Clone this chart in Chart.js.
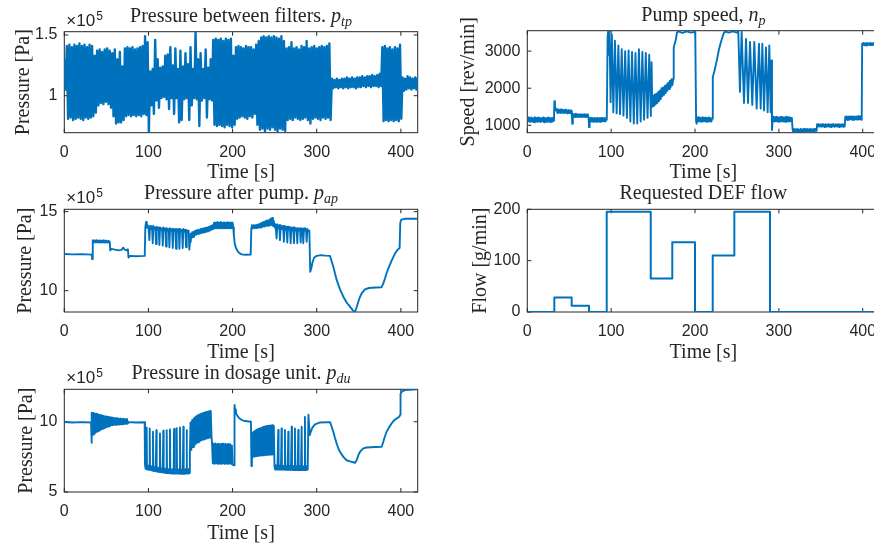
<!DOCTYPE html>
<html>
<head>
<meta charset="utf-8">
<title>DEF dosing system measurements</title>
<script src="https://cdn.jsdelivr.net/npm/chart.js@4.4.0/dist/chart.umd.min.js"></script>
<style>
  html, body { margin: 0; padding: 0; background: #fff; }
  body { width: 874px; height: 543px; overflow: hidden; position: relative; }
  canvas { position: absolute; }
</style>
</head>
<body>
<canvas id="ptpChart"></canvas>
<canvas id="speedChart"></canvas>
<canvas id="apChart"></canvas>
<canvas id="flowChart"></canvas>
<canvas id="duChart"></canvas>
<script>
// Tick positions of every axis
var timeTicks = [0, 100, 200, 300, 400];
var ptpTicks = [1, 1.5];
var speedTicks = [1000, 2000, 3000];
var apTicks = [10, 15];
var flowTicks = [0, 100, 200];
var duTicks = [5, 10];

// Pressure between filters, x1e5 Pa: upper and lower extremes every 3 s
var ptpStep = 3;
var ptpHigh = [1.30,1.41,1.42,1.40,1.42,1.41,1.43,1.41,1.42,1.40, 1.42,1.41,1.33,1.37,1.38,1.36,1.38,1.39,1.37,1.35,
  1.38,1.30,1.36,1.24,1.39,1.40,1.39,1.40,1.38,1.39, 1.40,1.41,1.49,1.44,1.20,1.22,1.46,1.30,1.23,1.24,
  1.33,1.34,1.40,1.25,1.39,1.22,1.37,1.24,1.35,1.26, 1.40,1.22,1.527,1.30,1.35,1.22,1.38,1.23,1.30,1.46,
  1.47,1.46,1.47,1.45,1.47,1.46,1.47,1.33,1.40,1.41, 1.40,1.39,1.41,1.40,1.40,1.38,1.42,1.45,1.48,1.49,
  1.48,1.49,1.48,1.49,1.48,1.47,1.49,1.45,1.39,1.40, 1.44,1.39,1.40,1.38,1.41,1.40,1.45,1.39,1.40,1.41,
  1.39,1.40,1.41,1.40,1.41,1.43,1.14,1.13,1.14,1.13, 1.14,1.14,1.15,1.14,1.15,1.14,1.15,1.15,1.16,1.15,
  1.16,1.16,1.17,1.16,1.17,1.18,1.40,1.41,1.39,1.40, 1.38,1.40,1.39,1.42,1.15,1.14,1.16,1.15,1.14,1.15,
  1.15];
var ptpLow = [1.05,0.81,0.82,0.80,0.81,0.82,0.81,0.80,0.82,0.81, 0.82,0.83,0.86,0.92,0.94,0.93,0.95,0.93,0.90,0.83,
  0.77,0.78,0.78,0.80,0.83,0.84,0.83,0.84,0.83,0.84, 0.83,0.85,0.84,0.70,0.92,0.85,0.96,0.90,0.98,0.99,
  0.97,0.89,0.98,0.85,0.98,0.78,0.80,0.97,0.98,0.80, 0.92,0.98,0.97,0.75,0.96,0.98,0.82,0.97,0.96,0.76,
  0.75,0.76,0.75,0.74,0.76,0.75,0.74,0.76,0.81,0.82, 0.83,0.82,0.81,0.83,0.82,0.85,0.76,0.72,0.73,0.70,
  0.73,0.72,0.74,0.72,0.70,0.73,0.72,0.71,0.80,0.81, 0.80,0.82,0.81,0.80,0.81,0.82,0.80,0.77,0.81,0.82,
  0.81,0.80,0.82,0.81,0.82,0.80,1.06,1.07,1.06,1.07, 1.06,1.07,1.06,1.07,1.07,1.06,1.07,1.07,1.08,1.07,
  1.08,1.07,1.08,1.08,1.07,1.08,0.79,0.80,0.79,0.80, 0.79,0.80,0.79,0.81,1.04,1.05,1.06,1.05,1.06,1.05,
  1.07];

// Pump speed [rev/min]: [time s, value]
var speedPoints = [
  [0,1150],[1,1210],[2,1100],[3,1200],[4,1090],[5,1210],[6,1100],[7,1190],[8,1080],[9,1220],
  [10,1110],[11,1200],[12,1090],[13,1210],[14,1100],[15,1200],[16,1090],[17,1190],[18,1110],[19,1210],
  [20,1080],[21,1200],[22,1100],[23,1190],[24,1090],[25,1210],[26,1100],[27,1200],[28,1080],[29,1190],
  [30,1100],[31,1210],[31.8,1120],[32.3,1650],[33,1520],[34,1400],[35,1440],[36,1330],[37,1430],[38,1340],
  [39,1420],[40,1330],[41,1430],[42,1340],[43,1410],[44,1330],[45,1420],[46,1340],[47,1400],[48,1320],
  [49,1410],[50,1330],[51,1400],[52,1320],[53,1390],[53.6,1040],[54.3,1310],[55,1230],[56,1300],[57,1220],
  [58,1310],[59,1230],[60,1300],[61,1220],[62,1290],[63,1230],[64,1300],[65,1220],[66,1290],[67,1230],
  [68,1300],[69,1220],[70,1290],[71,1230],[72,1300],[73,1220],[73.6,950],[74.3,1190],[75,1090],[76,1200],
  [77,1100],[78,1190],[79,1090],[80,1200],[81,1100],[82,1190],[83,1090],[84,1200],[85,1100],[86,1190],
  [87,1090],[88,1200],[89,1100],[90,1190],[91,1110],[92,1200],[93,1100],[94,1190],[94.8,1150],
  [95.8,3400],[96.5,3550],[97.3,2900],[98,3550],[99.3,1620],[100.8,3450],[102.6,1350],[104.5,3280],
  [106.6,1320],[108.6,3150],[110.6,1300],[112.6,3050],[114.7,1260],[116.7,3000],[118.8,1200],[120.8,3020],
  [122.9,1100],[124.9,2980],[127,1050],[129,2950],[131.1,1050],[133.1,3050],[135.2,1100],[137.2,2980],
  [139.3,1150],[141.3,2950],[143.4,1200],[145.4,2900],[147.3,1250],[148.2,2700],[149,1500],
  [150,1800],[151,1520],[152,1830],[153,1560],[154,1850],[155,1600],[156,1900],[157,1650],[158,1930],
  [159,1700],[160,2000],[161,1780],[162,2020],[163,1820],[164,2060],[165,1870],[166,2100],[167,1930],
  [168,2150],[169,1980],[170,2200],[171,2030],[172,2240],[173,2080],[174,2250],
  [174.6,3100],[177,3300],[178.5,3500],[180,3530],[185,3490],[190,3530],[195,3500],[200.3,3520],
  [201.3,1100],[202,1040],[202.6,1210],[203.5,1100],[204.5,1220],[205.5,1110],[206.5,1200],[207.5,1090],
  [208.5,1210],[209.5,1100],[210.5,1200],[211.5,1110],[212.5,1210],[213.5,1090],[214.5,1200],[215.5,1100],
  [216.5,1210],[217.5,1110],[218.5,1200],[219.5,1100],[220.5,1180],
  [221.2,2300],[223,2450],[226,2750],[228.4,3030],[231,3250],[234,3470],[236,3530],[240,3500],
  [245,3530],[250,3500],[251.6,3540],
  [253.6,1900],[255.6,3520],[258.4,1600],[260.8,3330],[263.2,1600],[265.6,3250],[268.3,1550],[270.7,3250],
  [273.5,1450],[276.3,3200],[278.3,1450],[280.3,3200],[282.3,1400],[284.6,3100],[286.6,1350],[288.6,3150],
  [290.2,1350],[291.1,2750],[291.8,870],
  [292.5,1150],[293.5,1230],[294.5,1100],[295.5,1220],[296.5,1110],[297.5,1230],[298.5,1100],[299.5,1210],
  [300.5,1090],[301.5,1220],[302.5,1110],[303.5,1230],[304.5,1100],[305.5,1210],[306.5,1100],[307.5,1220],
  [308.5,1090],[309.5,1230],[310.5,1110],[311.5,1220],[312.5,1100],[313.5,1210],[314.5,1110],[315.5,1200],
  [316.3,900],[317,830],[318,900],[319,840],[320,890],[321,830],[322,900],[323,840],[324,890],[325,830],
  [326,900],[327,840],[328,890],[329,820],[330,900],[331,840],[332,890],[333,830],[334,900],[335,840],
  [336,890],[337,830],[338,900],[339,840],[340,890],[341,830],[342,900],[343,840],[344,890],[345,850],
  [345.6,1030],[346.5,960],[347.5,1030],[348.5,970],[349.5,1020],[350.5,960],[351.5,1030],[352.5,970],
  [353.5,1020],[354.5,950],[355.5,1030],[356.5,960],[357.5,1020],[358.5,970],[359.5,1030],[360.5,960],
  [361.5,1020],[362.5,950],[363.5,1030],[364.5,970],[365.5,1020],[366.5,960],[367.5,1030],[368.5,970],
  [369.5,1020],[370.5,960],[371.5,1030],[372.5,950],[373.5,1020],[374.5,970],[375.5,1030],[376.5,960],
  [377.5,1020],[378.5,970],
  [379.2,1230],[380,1150],[381,1240],[382,1140],[383,1230],[384,1150],[385,1240],[386,1160],[387,1230],
  [388,1140],[389,1240],[390,1150],[391,1230],[392,1160],[393,1240],[394,1150],[395,1250],[396,1160],
  [397,1240],[398,1150],[398.8,1220],
  [399.3,3200],[400,3160],[401,3220],[402,3160],[403,3210],[404,3150],[405,3220],[406,3170],[407,3210],
  [408,3160],[409,3220],[410,3160],[411,3210],[412,3170],[413,3220],[414,3160],[415,3210],[416,3160],
  [417,3220],[418,3170],[419,3210],[420,3180]
];

// Pressure after pump, x1e5 Pa: [time s, value]
var apPoints = [
  [0,12.32],[10,12.3],[20,12.31],[32.6,12.28],[33.1,12.0],[33.8,13.2],[35,13.05],[36,13.18],[37,13.05],[38,13.2],
  [39,13.06],[40,13.18],[41,13.05],[42,13.18],[43,13.04],[44,13.17],[45,13.05],[46,13.18],[47,13.05],[48,13.16],
  [49,13.05],[50,13.17],[51,13.04],[52,13.15],[53,13.05],[54,13.1],[54.6,12.55],[56,12.65],[60,12.6],[64,12.55],
  [68,12.58],[70,12.72],[72,12.6],[74,12.55],[75.6,12.62],[76.3,12.1],[78,12.2],[85,12.18],[95.6,12.2],
  [96.3,14.0],[97.2,14.35],[98,14.0],[99,14.15],[100.2,13.9],[101.1,13.2],[101.9,14.1],[103,13.9],[104.2,14.05],[105.1,13.0],
  [105.9,14.1],[107,13.9],[108.2,14.0],[109,12.95],[109.8,14.05],[111,13.85],[112.2,14.0],[113,12.9],[113.8,14.0],[115,13.85],
  [116.2,13.95],[117,12.85],[117.8,14.0],[119,13.8],[120.1,13.95],[120.9,12.8],[121.7,13.95],[123,13.8],[124.1,13.9],[124.9,12.75],
  [125.7,13.95],[127,13.8],[128.1,13.9],[128.9,12.7],[129.7,13.9],[131,13.8],[132,13.9],[132.8,12.65],[133.6,13.9],[135,13.75],
  [136,13.9],[136.8,12.65],[137.6,13.9],[139,13.75],[139.9,13.85],[140.7,12.7],[141.5,13.9],[143,13.75],[143.9,13.85],[144.7,12.75],
  [145.5,13.85],[147,13.7],[147.8,13.8],[148.6,12.6],[149.5,13.1],[150.3,13.6],[151,13.3],[152,13.7],[153,13.4],[154,13.75],
  [155,13.5],[156,13.8],[157,13.55],[158,13.85],[159,13.6],[160,13.85],[161,13.62],[162,13.9],[163,13.65],[164,13.92],
  [165,13.68],[166,13.95],[167,13.7],[168,13.98],[169,13.72],[170,14.0],[171,13.75],[172,14.05],[173,13.8],[174,14.1],
  [175,13.85],[176,14.15],[177,13.9],[178,14.3],[179,13.95],[180,14.3],[181,13.95],[182,14.35],[183,13.95],[184,14.3],
  [185,13.95],[186,14.35],[187,13.95],[188,14.3],[189,13.95],[190,14.32],[191,13.95],[192,14.3],[193,13.96],[194,14.33],
  [195,13.95],[196,14.3],[197,13.95],[198,14.32],[199,13.97],[200,14.3],[200.8,14.0],
  [201.5,13.5],[202.5,13.0],[204,12.7],[206,12.5],[208,12.38],[211,12.3],[215,12.27],[221.5,12.28],
  [222.3,14.0],[223,14.15],[224,13.95],[225,14.15],[226,13.95],[227,14.15],[228,13.97],[229,14.18],[230,13.98],[231,14.2],
  [232,14.0],[233,14.25],[234,14.0],[235,14.3],[236,14.05],[237,14.35],[238,14.05],[239,14.4],[240,14.1],[241,14.45],
  [242,14.1],[243,14.45],[244,14.12],[245,14.55],[246,14.15],[247,14.6],[248,14.1],[249,14.4],[250,14.0],
  [251,14.2],[252.3,13.3],[253.2,14.2],[254.5,13.95],[255.5,14.15],[256.3,13.2],[257.2,14.15],[258.5,13.9],[260,14.1],[261,13.1],
  [261.9,14.1],[263,13.85],[264.1,14.05],[265,13.05],[265.9,14.05],[267,13.85],[268.1,14.0],[269,13.0],[269.9,14.0],[271,13.8],
  [272.1,14.0],[272.9,13.0],[273.8,14.0],[275,13.8],[276.1,13.95],[276.9,13.0],[277.8,13.95],[279,13.8],[280.1,13.95],[280.9,13.05],
  [281.8,13.95],[283,13.8],[283.2,13.9],[284,13.0],[284.9,13.95],[286,13.8],[287.2,13.9],[288,13.1],[288.9,13.9],[290,13.75],
  [291.2,13.8],[292.3,11.2],[293.5,11.4],[295,11.8],[297,12.1],[300,12.2],[305,12.25],[310,12.22],[315.8,12.2],
  [319.7,11.52],[323.7,10.68],[327.6,10.1],[331.6,9.62],[335.5,9.25],[339.5,8.99],[343,8.75],[345.4,8.65],[347.4,8.95],[349.4,9.3],
  [351.4,9.6],[353.4,9.83],[357.3,10.08],[362,10.17],[370,10.2],[377.1,10.22],[379,10.45],[381,10.75],[383,11.1],[385,11.4],
  [389,11.9],[393,12.35],[396,12.58],[398.5,12.7],[399.3,14.3],[400.5,14.5],[405,14.55],[420,14.55]
];

// Requested DEF flow [g/min]: held from each time until the next
var flowTime = [0, 32.2, 52.9, 73.6, 94.7, 147.2, 172.9, 200, 221.1, 246.9, 289.4, 420];
var flowValue = [0, 28, 12, 0, 195, 65, 136, 0, 110, 195, 0, 0];

// Pressure in dosage unit, x1e5 Pa: [time s, value]
var duPoints = [
  [0,9.98],[10,9.95],[20,9.97],[31.8,9.95],[32.3,8.5],
  [32.8,10.65],[33.3,9.05],[33.8,10.6],[34.3,9.1],[34.8,10.62],[35.3,9.15],[35.8,10.58],[36.3,9.2],[36.8,10.55],[37.3,9.25],
  [37.8,10.57],[38.3,9.28],[38.8,10.52],[39.3,9.3],[39.8,10.5],[40.3,9.35],[40.8,10.52],[41.3,9.38],[41.8,10.48],[42.3,9.4],
  [42.8,10.45],[43.3,9.45],[43.8,10.47],[44.3,9.48],[44.8,10.42],[45.3,9.5],[45.8,10.4],[46.3,9.52],[46.8,10.42],[47.3,9.55],
  [47.8,10.38],[48.3,9.58],[48.8,10.36],[49.3,9.6],[49.8,10.38],[50.3,9.62],[50.8,10.35],[51.3,9.65],[51.8,10.33],[52.3,9.66],
  [52.8,10.35],[53.3,9.68],[53.8,10.32],[54.3,9.7],[54.8,10.3],
  [55.5,9.75],[56.5,10.3],[57.5,9.75],[58.5,10.28],[59.5,9.78],[60.5,10.25],[61.5,9.78],[62.5,10.27],[63.5,9.8],[64.5,10.22],
  [65.5,9.8],[66.5,10.24],[67.5,9.82],[68.5,10.2],[69.5,9.82],[70.5,10.22],[71.5,9.84],[72.5,10.18],[73.5,9.85],[74.5,10.2],
  [75.5,9.87],[76.3,9.97],[85,9.95],[95.5,9.96],
  [95.9,6.95],[96.6,6.65],[97.3,6.9],[97.9,9.57],[98.3,6.6],[99,6.9],[99.7,6.6],[100.4,6.88],[101.1,6.58],[101.5,9.52],
  [101.9,6.58],[102.6,6.85],[103.3,6.55],[104,6.82],[104.7,6.55],[105.4,9.29],[105.8,6.5],[106.5,6.8],[107.2,6.5],[107.9,6.78],
  [108.6,6.5],[109.4,9.4],[109.8,6.45],[110.5,6.75],[111.2,6.45],[111.9,6.72],[112.6,6.42],[113.7,9.17],[114.1,6.42],[114.8,6.7],
  [115.5,6.4],[116.2,6.68],[116.9,6.4],[117.7,9.36],[118.1,6.38],[118.8,6.66],[119.5,6.36],[120.2,6.65],[120.9,6.35],[121.7,9.4],
  [122.1,6.35],[122.8,6.64],[123.5,6.34],[124.2,6.62],[124.9,6.33],[125.6,9.45],[126,6.33],[126.7,6.62],[127.4,6.32],[128.1,6.6],
  [128.8,6.32],[129.5,6.6],[130,6.32],[130.4,9.48],[130.8,6.31],[131.5,6.6],[132.2,6.31],[132.9,6.6],[133.6,9.55],[134,6.31],
  [134.7,6.6],[135.4,6.31],[136.1,6.6],[136.8,6.31],[137.5,9.6],[137.9,6.3],[138.6,6.6],[139.3,6.3],[140,6.6],[140.7,6.3],
  [141.5,9.65],[141.9,6.3],[142.6,6.6],[143.3,6.3],[144,6.62],[144.7,6.32],[145.4,9.4],[145.8,6.32],[146.5,6.62],[147.2,6.32],
  [147.9,6.62],[148.6,6.35],[149.2,7.6],
  [150,9.95],[151,8.0],[152,10.12],[153,8.2],[154,10.26],[155,8.35],[156,10.36],[157,8.46],[158,10.44],[159,8.54],
  [160,10.5],[161,8.62],[162,10.56],[163,8.68],[164,10.61],[165,8.73],[166,10.65],[167,8.77],[168,10.69],[169,8.8],
  [170,10.72],[171,8.84],[172,10.75],[173,8.87],[174,10.77],[175,8.9],
  [175.6,8.45],[176.5,7.05],[177.5,8.42],[178.5,7.0],[179.5,8.45],[180.5,7.05],[181.5,8.4],[182.5,7.0],[183.5,8.44],[184.5,7.02],
  [185.5,8.41],[186.5,7.0],[187.5,8.43],[188.5,7.03],[189.5,8.4],[190.5,7.0],[191.5,8.42],[192.5,7.02],[193.5,8.4],[194.5,7.0],
  [195.5,8.42],[196.5,7.03],[197.5,8.38],[198.5,7.0],[199.2,8.3],[199.8,6.95],[201.8,6.9],
  [202.3,11.19],[203,10.85],[204,10.6],[206,10.4],[208,10.25],[211,10.12],[215,10.05],[221.8,10.0],[222.4,6.85],
  [223,9.2],[224,7.5],[225,9.3],[226,7.52],[227,9.38],[228,7.55],[229,9.45],[230,7.56],[231,9.5],[232,7.58],
  [233,9.55],[234,7.6],[235,9.6],[236,7.6],[237,9.64],[238,7.62],[239,9.68],[240,7.63],[241,9.7],[242,7.64],
  [243,9.72],[244,7.65],[245,9.74],[246,7.66],[247,9.75],[248,7.67],[249,9.7],[249.8,6.85],
  [250.5,6.6],[251.2,6.9],[251.9,6.62],[252.6,6.88],[253.3,6.6],[254.3,9.41],[254.7,6.6],[255.4,6.88],[256.1,6.6],[256.8,6.88],
  [257.5,6.6],[258.2,9.52],[258.6,6.6],[259.3,6.88],[260,6.6],[260.7,6.86],[261.4,6.6],[262.2,9.41],[262.6,6.58],[263.3,6.86],
  [264,6.58],[264.7,6.86],[265.4,6.58],[266.2,9.29],[266.6,6.58],[267.3,6.86],[268,6.58],[268.7,6.85],[269.4,6.58],[270.2,9.64],
  [270.6,6.57],[271.3,6.85],[272,6.57],[272.7,6.85],[273.4,6.57],[274.1,9.52],[274.5,6.57],[275.2,6.85],[275.9,6.57],[276.6,6.85],
  [277.3,6.57],[278.1,9.41],[278.5,6.56],[279.2,6.84],[279.9,6.56],[280.6,6.84],[281.3,6.56],[282.1,9.64],[282.5,6.56],[283.2,6.84],
  [283.9,6.56],[284.6,6.84],[285.3,6.56],[286,10.35],[286.4,6.56],[287.1,6.84],[287.8,6.56],[288.5,6.84],[289.3,6.6],[290.1,10.5],
  [291.8,9.05],[293,9.3],[295,9.6],[298,9.82],[304,9.95],[315.8,9.97],
  [317.5,9.7],[319.7,9.29],[321.7,8.85],[323.7,8.45],[325.7,8.1],[327.6,7.86],[331.6,7.5],[335.5,7.26],[339.5,7.18],[343.4,7.12],
  [345.4,7.07],[347.4,7.26],[349.4,7.6],[351.4,7.86],[353.4,8.0],[355.3,8.1],[359.3,8.17],[370,8.2],[377.1,8.22],[379.1,8.57],
  [381,8.95],[383.1,9.29],[386,9.6],[389,9.88],[392,10.1],[395,10.24],[398.2,10.36],[399,10.5],[399.6,12.0],[401,12.14],
  [404.9,12.25],[410,12.28],[420,12.31]
];

var lineColor = '#0072BD';
var axisColor = '#262626';
var sansFont = "'Liberation Sans', Arial, Helvetica, sans-serif";
var serifFont = "'Liberation Serif', 'Times New Roman', serif";

// Box around the axes, inward tick marks, panel title and the x10^5 multiplier
var matlabAxes = {
    id: 'matlabAxes',
    beforeDatasetsDraw(chart) {
        var ctx = chart.ctx, a = chart.chartArea, sx = chart.scales.x, sy = chart.scales.y;
        ctx.save();
        ctx.strokeStyle = axisColor;
        ctx.lineWidth = 1;
        ctx.strokeRect(a.left, a.top, a.right - a.left, a.bottom - a.top);
        ctx.beginPath();
        sx.ticks.forEach(t => {
            var px = sx.getPixelForValue(t.value);
            ctx.moveTo(px, a.bottom); ctx.lineTo(px, a.bottom - 4);
            ctx.moveTo(px, a.top); ctx.lineTo(px, a.top + 4);
        });
        sy.ticks.forEach(t => {
            var py = sy.getPixelForValue(t.value);
            ctx.moveTo(a.left, py); ctx.lineTo(a.left + 4, py);
            ctx.moveTo(a.right, py); ctx.lineTo(a.right - 4, py);
        });
        ctx.stroke();
        ctx.restore();
    },
    afterDraw(chart, args, o) {
        var ctx = chart.ctx, a = chart.chartArea;
        ctx.save();
        ctx.fillStyle = axisColor;
        ctx.textBaseline = 'alphabetic';
        ctx.textAlign = 'left';

        ctx.font = '20px ' + serifFont;
        var w1 = ctx.measureText(o.text).width;
        ctx.font = 'italic 20px ' + serifFont;
        var w2 = o.symbol ? ctx.measureText(o.symbol).width : 0;
        ctx.font = 'italic 14px ' + serifFont;
        var w3 = o.sub ? ctx.measureText(o.sub).width : 0;
        var x = (a.left + a.right) / 2 - (w1 + w2 + w3) / 2;
        var y = a.top - 10;
        ctx.font = '20px ' + serifFont;
        ctx.fillText(o.text, x, y);
        if (o.symbol) {
            ctx.font = 'italic 20px ' + serifFont;
            ctx.fillText(o.symbol, x + w1, y);
            ctx.font = 'italic 14px ' + serifFont;
            ctx.fillText(o.sub, x + w1 + w2, y + 4);
        }

        if (o.exponent) {
            ctx.font = '17px ' + sansFont;
            ctx.fillText('\u00d710', a.left + 2, a.top - 6);
            var we = ctx.measureText('\u00d710').width;
            ctx.font = '12px ' + sansFont;
            ctx.fillText(o.exponent, a.left + 3 + we, a.top - 12);
        }
        ctx.restore();
    }
};

function toXY(pairs) {
    return pairs.map(p => ({ x: p[0], y: p[1] }));
}

function zigzag(step, high, low) {
    var pts = [];
    for (var i = 0; i < high.length; i++) {
        pts.push({ x: i * step, y: high[i] });
        if (i < high.length - 1) pts.push({ x: i * step + step / 2, y: low[i] });
    }
    return pts;
}

function fixedTicks(values) {
    return s => { s.ticks = values.map(v => ({ value: v })); };
}

// One subplot: canvas at (x, y) of size w x h, plot box given in page pixels
function makePanel(p) {
    var c = document.getElementById(p.id);
    c.width = p.w; c.height = p.h;
    c.style.left = p.x + 'px'; c.style.top = p.y + 'px';
    c.style.width = p.w + 'px'; c.style.height = p.h + 'px';
    var yWidth = p.box[0] - p.x;
    var xHeight = p.y + p.h - p.box[3];

    return new Chart(c.getContext('2d'), {
        type: 'line',
        data: {
            datasets: [{
                data: p.data,
                borderColor: lineColor,
                borderWidth: p.lineWidth || 1.9,
                borderJoinStyle: 'round',
                pointRadius: 0,
                fill: false,
                tension: 0,
                stepped: p.stepped || false
            }]
        },
        options: {
            responsive: false,
            animation: false,
            devicePixelRatio: 1,
            events: [],
            layout: { padding: { left: 0, top: p.box[1] - p.y, right: p.x + p.w - p.box[2], bottom: 0 } },
            plugins: {
                legend: { display: false },
                tooltip: { enabled: false },
                title: { display: false },
                matlabAxes: { text: p.title, symbol: p.symbol, sub: p.sub, exponent: p.exponent }
            },
            scales: {
                x: {
                    type: 'linear', min: 0, max: 420,
                    afterBuildTicks: fixedTicks(timeTicks),
                    afterFit: s => { s.height = xHeight; },
                    grid: { display: false, drawTicks: false },
                    border: { display: false },
                    ticks: {
                        autoSkip: false, maxRotation: 0,
                        padding: 10, color: axisColor, font: { family: sansFont, size: 16 },
                        callback: v => String(v)
                    },
                    title: {
                        display: true, text: 'Time [s]', color: axisColor,
                        font: { family: serifFont, size: 20 }, padding: 0
                    }
                },
                y: {
                    type: 'linear', min: p.yMin, max: p.yMax,
                    afterBuildTicks: fixedTicks(p.yTicks),
                    afterFit: s => { s.width = yWidth; },
                    grid: { display: false, drawTicks: false },
                    border: { display: false },
                    ticks: {
                        autoSkip: false,
                        padding: 7, color: axisColor, font: { family: sansFont, size: 16 },
                        callback: v => String(v)
                    },
                    title: {
                        display: true, text: p.yTitle, color: axisColor,
                        font: { family: serifFont, size: 20 }, padding: { top: p.yTitlePad, bottom: 0 }
                    }
                }
            }
        },
        plugins: [matlabAxes]
    });
}

makePanel({
    id: 'ptpChart', x: 0, y: 0, w: 430, h: 185, box: [64.3, 31.7, 417.7, 132.7],
    data: zigzag(ptpStep, ptpHigh, ptpLow), lineWidth: 2.4,
    yMin: 0.695, yMax: 1.527, yTicks: ptpTicks, yTitle: 'Pressure [Pa]', yTitlePad: 12,
    title: 'Pressure between filters. ', symbol: 'p', sub: 'tp', exponent: '5'
});

makePanel({
    id: 'speedChart', x: 440, y: 0, w: 450, h: 185, box: [527.3, 30.7, 879.5, 132.7],
    data: toXY(speedPoints),
    yMin: 800, yMax: 3550, yTicks: speedTicks, yTitle: 'Speed [rev/min]', yTitlePad: 17,
    title: 'Pump speed, ', symbol: 'n', sub: 'p'
});

makePanel({
    id: 'apChart', x: 0, y: 180, w: 430, h: 185, box: [64.3, 209.3, 417.7, 312],
    data: toXY(apPoints),
    yMin: 8.65, yMax: 15.15, yTicks: apTicks, yTitle: 'Pressure [Pa]', yTitlePad: 13.4,
    title: 'Pressure after pump. ', symbol: 'p', sub: 'ap', exponent: '5'
});

makePanel({
    id: 'flowChart', x: 440, y: 180, w: 450, h: 185, box: [527.3, 209.3, 879.5, 312],
    data: flowTime.map((t, i) => ({ x: t, y: flowValue[i] })), stepped: true, lineWidth: 2,
    yMin: 0, yMax: 200, yTicks: flowTicks, yTitle: 'Flow [g/min]', yTitlePad: 28.8,
    title: 'Requested DEF flow'
});

makePanel({
    id: 'duChart', x: 0, y: 360, w: 430, h: 186, box: [64.3, 389.3, 417.7, 492],
    data: toXY(duPoints),
    yMin: 5, yMax: 12.31, yTicks: duTicks, yTitle: 'Pressure [Pa]', yTitlePad: 14.7,
    title: 'Pressure in dosage unit. ', symbol: 'p', sub: 'du', exponent: '5'
});
</script>
</body>
</html>
